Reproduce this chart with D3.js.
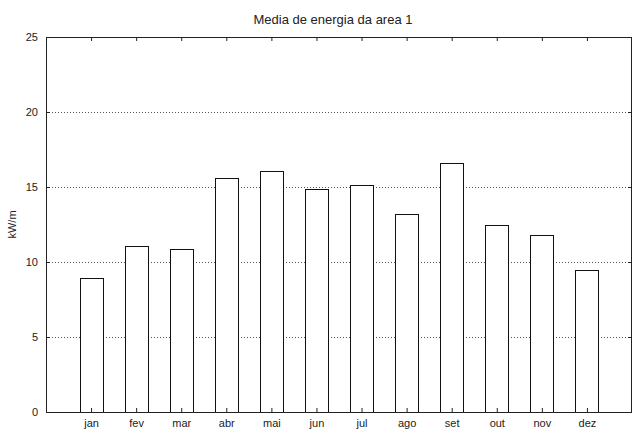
<!DOCTYPE html>
<html>
<head>
<meta charset="utf-8">
<script src="https://cdn.jsdelivr.net/npm/d3@7"></script>
<style>
  html, body { margin: 0; padding: 0; background: #fff; overflow: hidden; }
  svg { display: block; }
  text { font-family: "Liberation Sans", Arial, sans-serif; fill: #222; }
</style>
</head>
<body>
<div id="chart"></div>
<script>
// monthly mean energy, area 1
var months = ["jan", "fev", "mar", "abr", "mai", "jun", "jul", "ago", "set", "out", "nov", "dez"];
var values = [8.95, 11.1, 10.9, 15.62, 16.1, 14.87, 15.15, 13.2, 16.6, 12.5, 11.8, 9.45];
var yTicks = [0, 5, 10, 15, 20, 25];
var gridTicks = [5, 10, 15, 20];
var title = "Media de energia da area 1";
var yLabel = "kW/m";

var width = 633, height = 432;
var margin = {top: 37, right: 1, bottom: 20, left: 46};
var innerWidth = width - margin.left - margin.right;
var innerHeight = height - margin.top - margin.bottom;

var svg = d3.select("#chart").append("svg")
    .attr("width", width)
    .attr("height", height);

var g = svg.append("g")
    .attr("transform", "translate(" + margin.left + "," + margin.top + ")");

var x = d3.scalePoint().domain(months).range([0, innerWidth]).padding(1);
var y = d3.scaleLinear().domain([0, 25]).range([innerHeight, 0]);
var barW = x.step() * 0.51;

// dotted grid
g.selectAll(".grid")
    .data(gridTicks)
    .enter().append("line")
    .attr("class", "grid")
    .attr("x1", 0)
    .attr("x2", innerWidth)
    .attr("y1", function (d) { return Math.round(y(d)) + 0.5; })
    .attr("y2", function (d) { return Math.round(y(d)) + 0.5; })
    .attr("stroke", "#555")
    .attr("stroke-dasharray", "1,2");

// bars
var y0 = Math.round(y(0));
g.selectAll(".bar")
    .data(values)
    .enter().append("rect")
    .attr("class", "bar")
    .attr("x", function (d, i) { return Math.round(x(months[i]) - barW / 2) + 0.5; })
    .attr("y", function (d) { return Math.round(y(d)) + 0.5; })
    .attr("width", Math.round(barW))
    .attr("height", function (d) { return y0 - Math.round(y(d)); })
    .attr("fill", "#fff")
    .attr("stroke", "#111")
    .attr("stroke-width", 1);

// axes, ticks pointing inward
function styleAxis(sel) {
    sel.select(".domain").remove();
    sel.selectAll("line").attr("stroke", "#222");
    sel.selectAll("text")
        .style("font-size", "11px")
        .style("font-family", "'Liberation Sans', Arial, sans-serif")
        .attr("fill", "#222");
}

g.append("g")
    .attr("transform", "translate(0," + innerHeight + ")")
    .call(d3.axisBottom(x).tickSize(-4).tickPadding(7))
    .call(styleAxis);

g.append("g")
    .call(d3.axisTop(x).tickSize(-4).tickFormat(""))
    .call(styleAxis);

g.append("g")
    .call(d3.axisLeft(y).tickValues(yTicks).tickSize(-4).tickPadding(8))
    .call(styleAxis);

g.append("g")
    .attr("transform", "translate(" + innerWidth + ",0)")
    .call(d3.axisRight(y).tickValues(yTicks).tickSize(-4).tickFormat(""))
    .call(styleAxis);

// frame
g.append("rect")
    .attr("x", 0.5)
    .attr("y", 0.5)
    .attr("width", innerWidth - 1)
    .attr("height", innerHeight)
    .attr("fill", "none")
    .attr("stroke", "#222");

svg.append("text")
    .attr("x", 333)
    .attr("y", 24)
    .attr("text-anchor", "middle")
    .style("font-size", "13px")
    .text(title);

svg.append("text")
    .attr("transform", "translate(16," + (margin.top + innerHeight / 2) + ") rotate(-90)")
    .attr("text-anchor", "middle")
    .style("font-size", "11px")
    .text(yLabel);
</script>
</body>
</html>
